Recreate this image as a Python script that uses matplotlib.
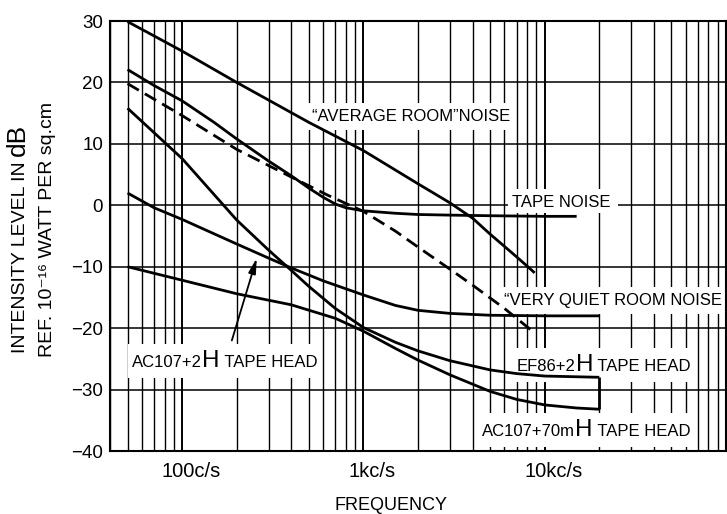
import numpy as np
import matplotlib
matplotlib.use('Agg')
import matplotlib.pyplot as plt
from matplotlib.ticker import FixedLocator, LogLocator, NullFormatter
from matplotlib.transforms import ScaledTranslation, Bbox
from matplotlib.patches import Rectangle

plt.rcParams['font.family'] = ['Liberation Sans', 'DejaVu Sans']

# frequency in c/s, level in dB re 10^-16 W/cm^2
avg_room_f = [50, 100, 200, 500, 1000, 2000, 3000, 4000, 5000, 6000, 7000, 8000, 8800]
avg_room_db = [29.9, 25.1, 20.0, 13.5, 8.9, 3.5, 0.4, -2.1, -4.7, -6.7, -8.4, -9.9, -11.0]

tape_f = [50, 70, 100, 150, 200, 300, 400, 500, 600, 700, 800, 1000, 1500, 2000, 3000, 5000, 10000, 15000]
tape_db = [22.1, 19.5, 17.0, 13.5, 10.8, 7.2, 4.8, 2.8, 1.3, 0.2, -0.4, -0.9, -1.3, -1.5, -1.6, -1.7, -1.8, -1.8]

quiet_f = [50, 100, 200, 400, 640, 1000, 1500, 2000, 3000, 4000, 6000, 8400]
quiet_db = [19.8, 14.6, 9.1, 4.6, 1.6, -1.0, -4.2, -6.8, -10.4, -13.0, -16.8, -20.3]

ef86_f = [50, 100, 200, 300, 400, 500, 700, 1000, 1500, 2000, 3000, 5000, 7000, 10000, 20000]
ef86_db = [15.8, 7.6, -2.4, -7.3, -10.6, -13.2, -16.8, -19.9, -22.3, -23.7, -25.3, -26.8, -27.4, -27.8, -28.0]

ac2h_f = [50, 70, 100, 200, 300, 400, 600, 1000, 1500, 2000, 3000, 5000, 10000, 20000]
ac2h_db = [2.0, -0.4, -2.3, -6.3, -8.6, -10.2, -12.3, -14.6, -16.3, -17.1, -17.6, -17.9, -18.0, -18.0]

ac70_f = [50, 100, 200, 400, 700, 1000, 1500, 2000, 3000, 5000, 7000, 10000, 15000, 20000]
ac70_db = [-10.0, -12.2, -14.4, -16.2, -18.4, -20.5, -23.3, -25.2, -27.6, -30.3, -31.6, -32.5, -33.0, -33.2]

xticks = [100, 1000, 10000]
xtick_labels = ['100c/s', '1kc/s', '10kc/s']
yticks = [-40, -30, -20, -10, 0, 10, 20, 30]
ytick_labels = ['\u221240', '\u221230', '\u221220', '\u221210', '0', '10', '20', '30']

fig = plt.figure(figsize=(7.27, 5.14), dpi=100)
ax = fig.add_axes([110 / 727, 63 / 514, 616 / 727, 430 / 514])
ax.set_xscale('log')
ax.set_xlim(40, 1e5)
ax.set_ylim(-40, 30)

ax.xaxis.set_major_locator(FixedLocator(xticks))
ax.set_xticklabels(xtick_labels, fontsize=14.5)
ax.xaxis.set_minor_locator(LogLocator(base=10, subs=np.arange(2, 10)))
ax.xaxis.set_minor_formatter(NullFormatter())
ax.set_yticks(yticks)
ax.set_yticklabels(ytick_labels, fontsize=13.5)
ax.tick_params(which='both', length=0)
ax.tick_params(axis='x', pad=8)
ax.tick_params(axis='y', pad=5)
shift = ScaledTranslation(0.09, 0, fig.dpi_scale_trans)
for lab in ax.get_xticklabels():
    lab.set_transform(lab.get_transform() + shift)

ax.set_axisbelow(True)
ax.grid(which='major', axis='x', color='k', lw=1.4)
ax.grid(which='minor', axis='x', color='k', lw=1.0)
ax.grid(which='major', axis='y', color='k', lw=1.1)
for sp in ax.spines.values():
    sp.set_linewidth(1.5)

line_kw = dict(color='k', lw=2.0, zorder=3, solid_capstyle='butt')
ax.plot(avg_room_f, avg_room_db, **line_kw)
ax.plot(tape_f, tape_db, **line_kw)
ax.plot(quiet_f, quiet_db, color='k', lw=2.0, zorder=3, linestyle=(0, (4.7, 2.5)))
ax.plot(ef86_f, ef86_db, **line_kw)
ax.plot(ac2h_f, ac2h_db, **line_kw)
ax.plot(ac70_f, ac70_db, **line_kw)
# closing stroke between the two head curves at the top end
ax.plot([ef86_f[-1], ac70_f[-1]], [ef86_db[-1], ac70_db[-1]], **line_kw)

ax.annotate('', xy=(258, -8.6), xytext=(188, -22.0),
            arrowprops=dict(arrowstyle='-|>,head_length=0.9,head_width=0.22',
                            color='k', lw=1.3, shrinkA=0, shrinkB=0),
            zorder=4)

renderer = fig.canvas.get_renderer()


def stacked_text(host, x, y, parts, trans, rot=0, box=None):
    # lay out pieces of different size one after another on one baseline
    offset = 0.0
    boxes = []
    for s, size in parts:
        dx, dy = (offset, 0) if rot == 0 else (0, offset)
        t = host.text(x, y, s, fontsize=size, ha='left', va='baseline',
                      rotation=rot, rotation_mode='anchor', zorder=5,
                      transform=trans + ScaledTranslation(dx, dy, fig.dpi_scale_trans))
        bb = t.get_window_extent(renderer)
        boxes.append(bb)
        offset += (bb.width if rot == 0 else bb.height) / fig.dpi
    if box is not None:
        u = Bbox.union(boxes)
        pl, pr, pb, pt = box
        inv = ax.transAxes.inverted()
        x0, y0 = inv.transform((u.x0 - pl, u.y0 - pb))
        x1, y1 = inv.transform((u.x1 + pr, u.y1 + pt))
        ax.add_patch(Rectangle((x0, y0), x1 - x0, y1 - y0, transform=ax.transAxes,
                               facecolor='white', edgecolor='none', zorder=2))


pad = (4, 4, 6, 6)
size = 12
big = 17.5
stacked_text(ax, 521, 13.8, [('\u201cAVERAGE ROOM\u201dNOISE', size)], ax.transData, box=pad)
stacked_text(ax, 6600, -0.3, [('TAPE NOISE', size)], ax.transData, box=(4, 8, 3, 6))
stacked_text(ax, 5950, -16.3, [('\u201cVERY QUIET ROOM NOISE', size)], ax.transData, box=pad)
stacked_text(ax, 7030, -27.0, [('EF86+2', size), ('H', big), (' TAPE HEAD', size)],
             ax.transData, box=pad)
stacked_text(ax, 4510, -37.5, [('AC107+70m', size), ('H', big), (' TAPE HEAD', size)],
             ax.transData, box=pad)
stacked_text(ax, 52.9, -26.4, [('AC107+2', size), ('H', big), (' TAPE HEAD', size)],
             ax.transData, box=pad)

stacked_text(fig, 25 / 727, 161 / 514, [('INTENSITY LEVEL IN ', 14), ('dB', 19)],
             fig.transFigure, rot=90)
stacked_text(fig, 52 / 727, 157 / 514, [('REF. 10\u207b\u00b9\u2076 WATT PER sq.cm', 14)],
             fig.transFigure, rot=90)

fig.text(391 / 727, 1 - 505 / 514, 'FREQUENCY', fontsize=13, ha='center', va='center')

fig.savefig('out.png', dpi=100)
